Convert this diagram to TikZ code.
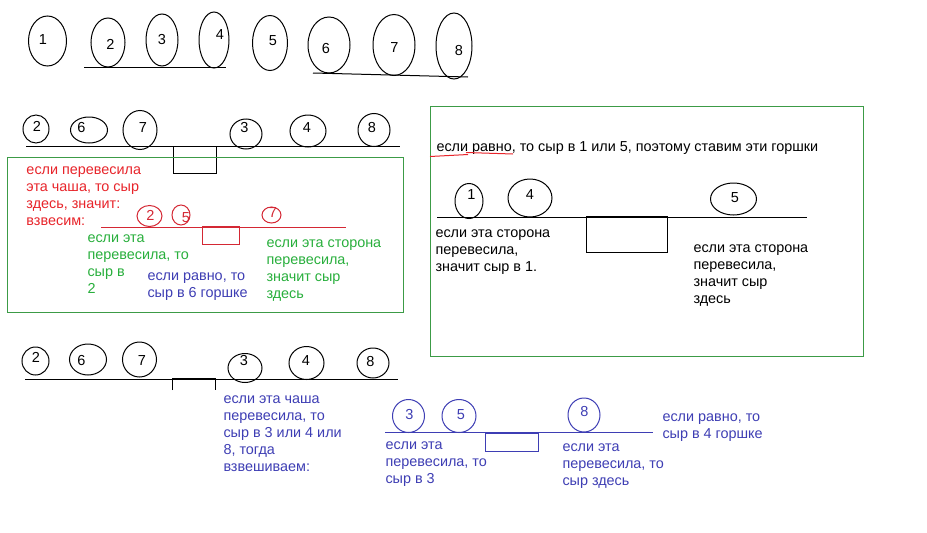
\documentclass[tikz,border=0pt]{standalone}
\usepackage{fontspec}
\setmainfont{Liberation Sans}
\usetikzlibrary{shapes.geometric}
\definecolor{tred}{RGB}{232,36,42}
\definecolor{lred}{RGB}{212,40,52}
\definecolor{tgreen}{RGB}{40,175,60}
\definecolor{bgreen}{RGB}{60,155,70}
\definecolor{tblue}{RGB}{62,62,180}
\newcommand\mypot[9][black]{%
  \node[pot,draw=#1,minimum width=#5pt,minimum height=#6pt] (#2) at (#3,#4) {};
  \node[num,text=#1] (#2n) at (#7,#8) {#9};}
\begin{document}
\begin{tikzpicture}[x=1pt,y=-1pt,line width=1pt,
  pot/.style={draw,ellipse,inner sep=0pt},
  num/.style={inner sep=0pt,font=\fontsize{14.5}{17}\selectfont},
  txt/.style={anchor=north west,inner sep=0pt,align=left,font=\fontsize{14.4}{17}\selectfont},
  scale line/.style={line width=1pt},
  frame/.style={draw=bgreen,line width=1pt}]
\useasboundingbox[fill=white] (0,0) rectangle (927,533);

% ---------- top row ----------
\mypot{t1}{47.5}{41}{38}{50}{43}{40}{1}
\mypot{t2}{108}{42.5}{34}{49}{110.5}{44}{2}
\mypot{t3}{162}{40}{32}{52}{162}{40}{3}
\mypot{t4}{214}{40}{30}{56}{220}{35}{4}
\mypot{t5}{270}{43}{35}{55}{273}{41}{5}
\mypot{t6}{329}{45}{42}{56}{326}{49}{6}
\mypot{t7}{394}{45}{42}{61}{394.5}{47.5}{7}
\mypot{t8}{454}{46}{36}{66}{459}{51}{8}
\coordinate (tl1a) at (84,67); \coordinate (tl1b) at (226,67);
\coordinate (tl2a) at (313,73); \coordinate (tl2b) at (468,77);
\draw[scale line] (tl1a) -- (tl1b);
\draw[scale line] (tl2a) -- (tl2b);

% ---------- second weighing ----------
\mypot{a2}{36}{129}{26}{28}{37}{126}{2}
\mypot{a6}{89}{130}{37}{26}{81.5}{128}{6}
\mypot{a7}{140}{130}{34}{39}{143}{128}{7}
\mypot{a3}{246}{134}{32}{30}{244.5}{128}{3}
\mypot{a4}{308}{131}{36}{32}{307}{128}{4}
\mypot{a8}{374}{130}{32}{33}{372}{128}{8}
\coordinate (al1) at (26,146); \coordinate (al2) at (400,146);
\draw[scale line] (al1) -- (al2);
\draw (173,146) rectangle (216,173);

% green frame left
\draw[frame] (7,157) rectangle (403,312);
\node[txt,text=tred] (redtxt) at (26,162) {\strut если перевесила\\эта чаша, то сыр\\здесь, значит:\\взвесим:};
\mypot[lred]{r2}{149.5}{216}{25}{21}{150.5}{215}{2}
\mypot[lred]{r5}{181}{215}{18}{20}{186}{218}{5}
\mypot[lred]{r7}{271.5}{215}{19}{16}{273}{213}{7}
\coordinate (rl1) at (101,227); \coordinate (rl2) at (346,227);
\draw[lred] (rl1) -- (rl2);
\draw[lred] (202,226) rectangle (239,244);
\node[txt,text=tgreen] (g1) at (87,230) {\strut если эта\\перевесила, то\\сыр в\\2};
\node[txt,text=tblue] (bl1) at (147,268) {\strut если равно, то\\сыр в 6 горшке};
\node[txt,text=tgreen] (g2) at (266,235) {\strut если эта сторона\\перевесила,\\значит сыр\\здесь};

% ---------- right frame ----------
\draw[frame] (430,106) rectangle (863,356);
\node[txt] (eq) at (436,139) {\strut если равно, то сыр в 1 или 5, поэтому ставим эти горшки};
\draw[tred] (430,156.5) -- (468,154.5);
\draw[tred] (466,152.5) -- (513,154);
\mypot{b1}{469}{201}{28}{35}{471.5}{195}{1}
\mypot{b4}{530}{198}{44}{38}{530}{195}{4}
\mypot{b5}{733.5}{199}{46}{32}{735}{198}{5}
\coordinate (bl1a) at (437,217); \coordinate (bl1b) at (807,217);
\draw[scale line] (bl1a) -- (bl1b);
\draw (586,216) rectangle (667,252);
\node[txt] (bt1) at (435,225) {\strut если эта сторона\\перевесила,\\значит сыр в 1.};
\node[txt] (bt2) at (693,240) {\strut если эта сторона\\перевесила,\\значит сыр\\здесь};

% ---------- third weighing ----------
\mypot{c2}{35.5}{361}{27}{28}{36}{357}{2}
\mypot{c6}{88}{359.5}{37}{31}{81.5}{361}{6}
\mypot{c7}{139.5}{359.5}{34}{35}{142}{361}{7}
\mypot{c3}{245}{368}{34}{29}{244}{361}{3}
\mypot{c4}{306.5}{363}{35}{33}{306}{361}{4}
\mypot{c8}{373}{363}{32}{30}{370.5}{361.5}{8}
\coordinate (cl1) at (25,379); \coordinate (cl2) at (398,379);
\draw[scale line] (cl1) -- (cl2);
\draw (172,390) -- (172,378.5) -- (215,378.5) -- (215,390);
\draw[line width=1.8pt] (172,378.5) -- (215,378.5);
\node[txt,text=tblue] (ct) at (223,391) {\strut если эта чаша\\перевесила, то\\сыр в 3 или 4 или\\8, тогда\\взвешиваем:};

% ---------- fourth weighing ----------
\mypot[tblue]{d3}{408.5}{416}{32}{33}{409.5}{414.5}{3}
\mypot[tblue]{d5}{459}{416}{34}{33}{461}{414.5}{5}
\mypot[tblue]{d8}{584}{415}{32}{34}{584.5}{412}{8}
\coordinate (dl1) at (385,432); \coordinate (dl2) at (653,432);
\draw[tblue] (dl1) -- (dl2);
\draw[tblue] (485,433) rectangle (538,451);
\node[txt,text=tblue] (dt1) at (385,437) {\strut если эта\\перевесила, то\\сыр в 3};
\node[txt,text=tblue] (dt2) at (562,439) {\strut если эта\\перевесила, то\\сыр здесь};
\node[txt,text=tblue] (dt3) at (662,409) {\strut если равно, то\\сыр в 4 горшке};
\end{tikzpicture}
\end{document}
